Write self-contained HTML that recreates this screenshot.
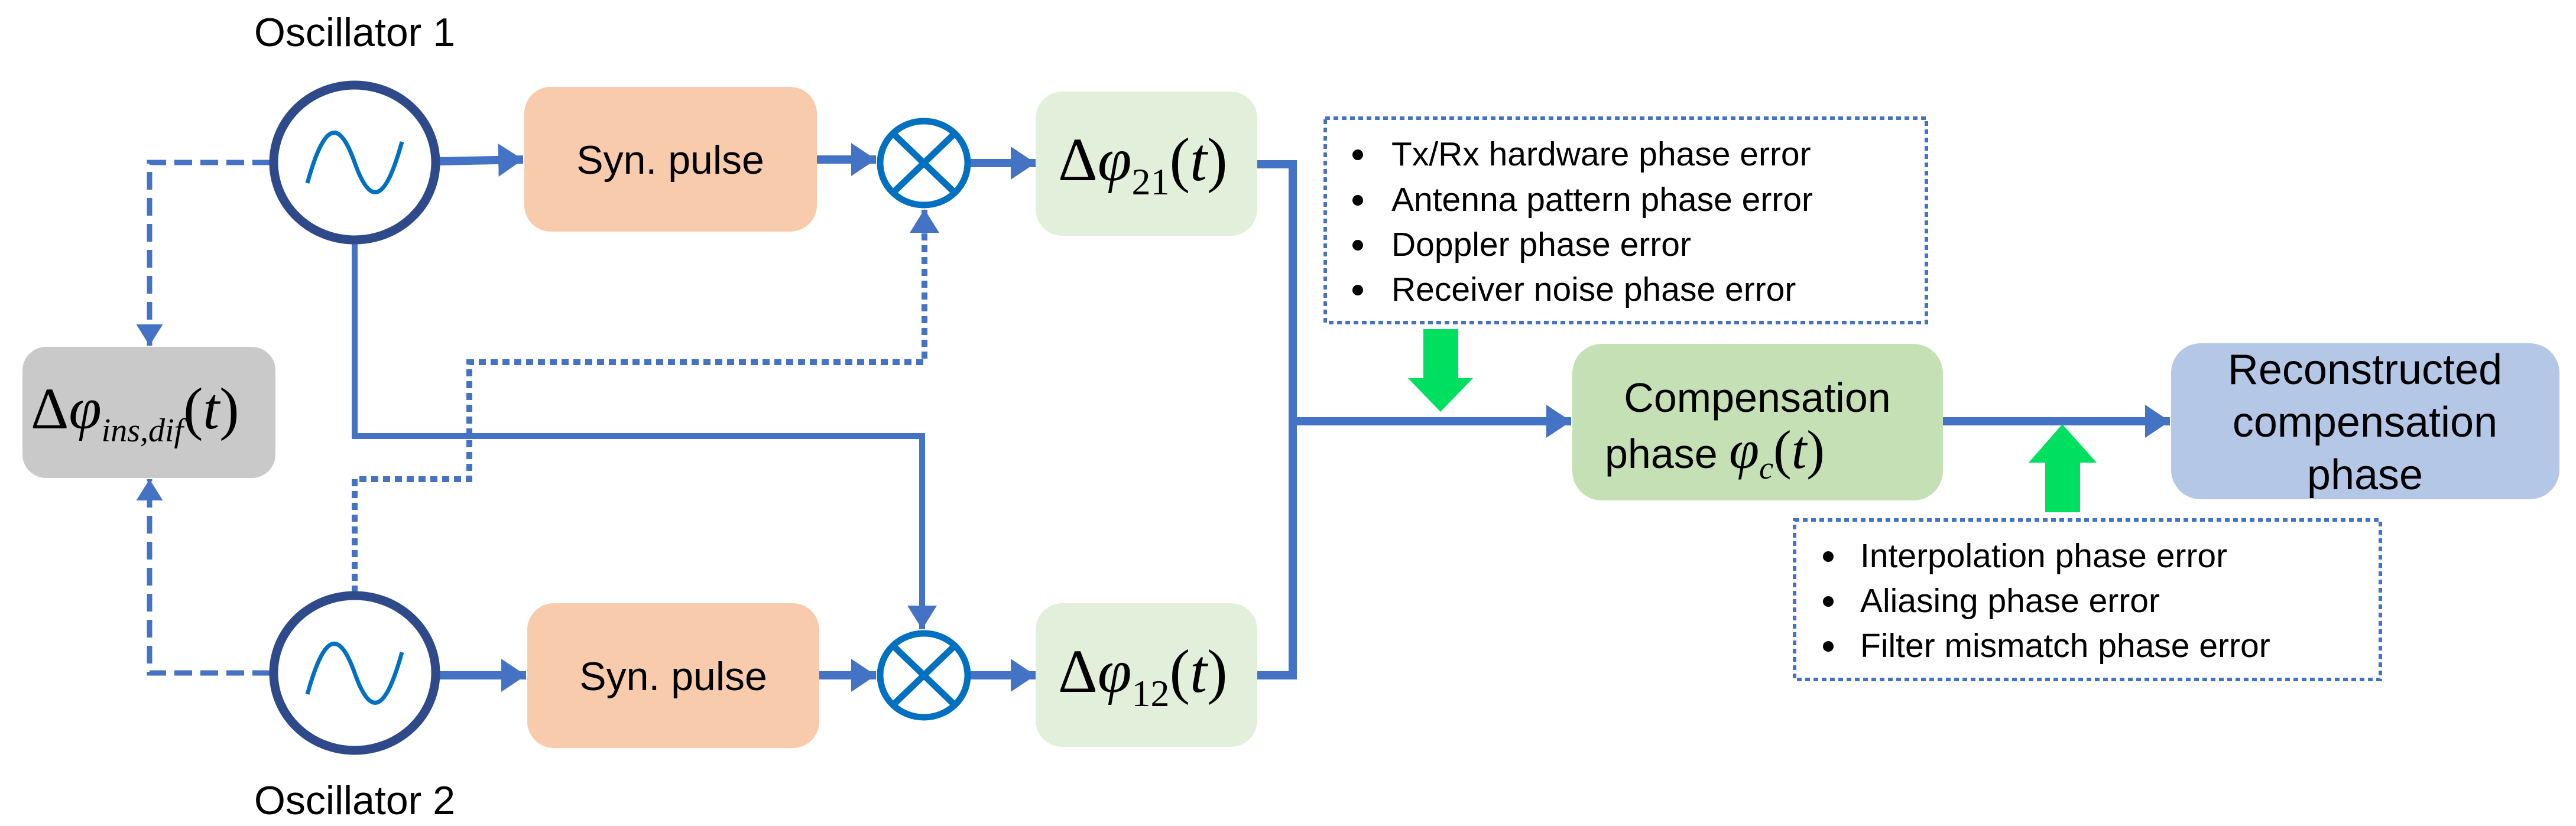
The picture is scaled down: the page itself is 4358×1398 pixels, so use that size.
<!DOCTYPE html>
<html><head><meta charset="utf-8"><style>
html,body{margin:0;padding:0;background:#fff;}
svg{display:block;}
.t{font-family:"Liberation Sans",sans-serif;fill:#000;}
.m{font-family:"Liberation Serif",serif;fill:#000;}
</style></head><body>
<svg width="4358" height="1398" viewBox="0 0 4358 1398" xmlns="http://www.w3.org/2000/svg">
<defs>
<marker id="a" markerWidth="4" markerHeight="4" refX="3" refY="2" orient="auto" markerUnits="strokeWidth"><path d="M0,0 L3,2 L0,4 Z" fill="#4472C4"/></marker>
<marker id="b" markerWidth="5" markerHeight="5" refX="4" refY="2.5" orient="auto" markerUnits="strokeWidth"><path d="M0,0 L4,2.5 L0,5 Z" fill="#4472C4"/></marker>
</defs>
<text x="600" y="78" text-anchor="middle" class="t" font-size="68">Oscillator 1</text>
<text x="600" y="1378" text-anchor="middle" class="t" font-size="68">Oscillator 2</text>

<g fill="none" stroke="#4472C4">
<line x1="744" y1="273" x2="885" y2="270" stroke-width="14" marker-end="url(#a)"/>
<line x1="1382" y1="270" x2="1482" y2="270" stroke-width="14" marker-end="url(#a)"/>
<line x1="1642" y1="276" x2="1752" y2="276" stroke-width="14" marker-end="url(#a)"/>
<line x1="744" y1="1143" x2="890" y2="1143" stroke-width="14" marker-end="url(#a)"/>
<line x1="1386" y1="1143" x2="1482" y2="1143" stroke-width="14" marker-end="url(#a)"/>
<line x1="1642" y1="1143" x2="1752" y2="1143" stroke-width="14" marker-end="url(#a)"/>
<polyline points="2127,278 2187,278 2187,1143 2127,1143" stroke-width="14"/>
<line x1="2187" y1="713" x2="2658" y2="713" stroke-width="14" marker-end="url(#a)"/>
<line x1="3287" y1="713" x2="3671" y2="713" stroke-width="14" marker-end="url(#a)"/>
<polyline points="600,412 600,738 1560,738 1560,1065" stroke-width="10" marker-end="url(#b)"/>
<polyline points="600,1003 600,811 794,811 794,613 1564,613 1564,354" stroke-width="10" stroke-dasharray="12,8" marker-end="url(#b)"/>
<polyline points="457,275 253,275 253,585" stroke-width="9" stroke-dasharray="30,14" marker-end="url(#b)"/>
<polyline points="457,1139 253,1139 253,811" stroke-width="9" stroke-dasharray="30,14" marker-end="url(#b)"/>
</g>

<g fill="#fff" stroke="#2E4A8B" stroke-width="15">
<ellipse cx="600" cy="275" rx="137" ry="131"/>
<ellipse cx="600" cy="1139" rx="137" ry="131"/>
</g>
<g fill="none" stroke="#0070C0" stroke-width="7">
<path d="M520,310 C545,220 570,190 600,275 C630,360 655,330 680,240"/>
<path d="M520,1175 C545,1085 570,1055 600,1139 C630,1224 655,1194 680,1104"/>
</g>

<g fill="#fff" stroke="#0070C0" stroke-width="11">
<ellipse cx="1563" cy="276" rx="74" ry="71"/>
<ellipse cx="1563" cy="1143" rx="74" ry="71"/>
<path d="M1511,226 L1615,326 M1615,226 L1511,326 M1511,1093 L1615,1193 M1615,1093 L1511,1193"/>
</g>

<rect x="887" y="147" width="495" height="245" rx="45" fill="#F8CBAD"/>
<rect x="892" y="1021" width="494" height="245" rx="45" fill="#F8CBAD"/>
<text x="1134" y="294" text-anchor="middle" class="t" font-size="68">Syn. pulse</text>
<text x="1139" y="1168" text-anchor="middle" class="t" font-size="68">Syn. pulse</text>

<rect x="1752" y="155" width="375" height="244" rx="45" fill="#E2EFDA"/>
<rect x="1752" y="1021" width="375" height="243" rx="45" fill="#E2EFDA"/>
<text x="1790" y="305" class="m" font-size="104">Δ<tspan font-style="italic">φ</tspan><tspan font-size="64" dy="24">21</tspan><tspan dy="-24">(<tspan font-style="italic">t</tspan>)</tspan></text>
<text x="1790" y="1171" class="m" font-size="104">Δ<tspan font-style="italic">φ</tspan><tspan font-size="64" dy="24">12</tspan><tspan dy="-24">(<tspan font-style="italic">t</tspan>)</tspan></text>

<rect x="38" y="587" width="428" height="222" rx="40" fill="#C9C9C9"/>
<text x="52" y="725" class="m" font-size="100">Δ<tspan font-style="italic">φ</tspan><tspan font-size="56" dy="22" font-style="italic">ins,dif</tspan><tspan dy="-22">(<tspan font-style="italic">t</tspan>)</tspan></text>

<rect x="2660" y="582" width="627" height="265" rx="50" fill="#C5E0B4"/>
<text x="2973" y="697" text-anchor="middle" class="t" font-size="70">Compensation</text>
<text x="2715" y="792" class="t" font-size="70">phase <tspan class="m" font-style="italic" font-size="92">φ</tspan><tspan class="m" font-style="italic" font-size="54" dy="18">c</tspan><tspan class="m" font-size="92" dy="-18">(<tspan font-style="italic">t</tspan>)</tspan></text>

<rect x="3673" y="581" width="657" height="264" rx="50" fill="#B4C7E7"/>
<text x="4001" y="650" text-anchor="middle" class="t" font-size="72">Reconstructed</text>
<text x="4001" y="739" text-anchor="middle" class="t" font-size="72">compensation</text>
<text x="4001" y="828" text-anchor="middle" class="t" font-size="72">phase</text>

<rect x="2242" y="200" width="1017" height="346" fill="#fff" stroke="#4472C4" stroke-width="6" stroke-dasharray="8,6"/>
<g class="t" font-size="57">
<circle cx="2297" cy="262" r="9"/><text x="2354" y="280">Tx/Rx hardware phase error</text>
<circle cx="2297" cy="339" r="9"/><text x="2354" y="357">Antenna pattern phase error</text>
<circle cx="2297" cy="415" r="9"/><text x="2354" y="433">Doppler phase error</text>
<circle cx="2297" cy="491" r="9"/><text x="2354" y="509">Receiver noise phase error</text>
</g>
<rect x="3036" y="880" width="991" height="270" fill="#fff" stroke="#4472C4" stroke-width="6" stroke-dasharray="8,6"/>
<g class="t" font-size="57">
<circle cx="3093" cy="942" r="9"/><text x="3147" y="960">Interpolation phase error</text>
<circle cx="3093" cy="1018" r="9"/><text x="3147" y="1036">Aliasing phase error</text>
<circle cx="3093" cy="1094" r="9"/><text x="3147" y="1112">Filter mismatch phase error</text>
</g>

<polygon points="2408,557 2467,557 2467,640 2492,640 2437,697 2382,640 2408,640" fill="#00E060"/>
<polygon points="3460,867 3519,867 3519,783 3547,783 3489,718 3432,783 3460,783" fill="#00E060"/>
</svg>
</body></html>
